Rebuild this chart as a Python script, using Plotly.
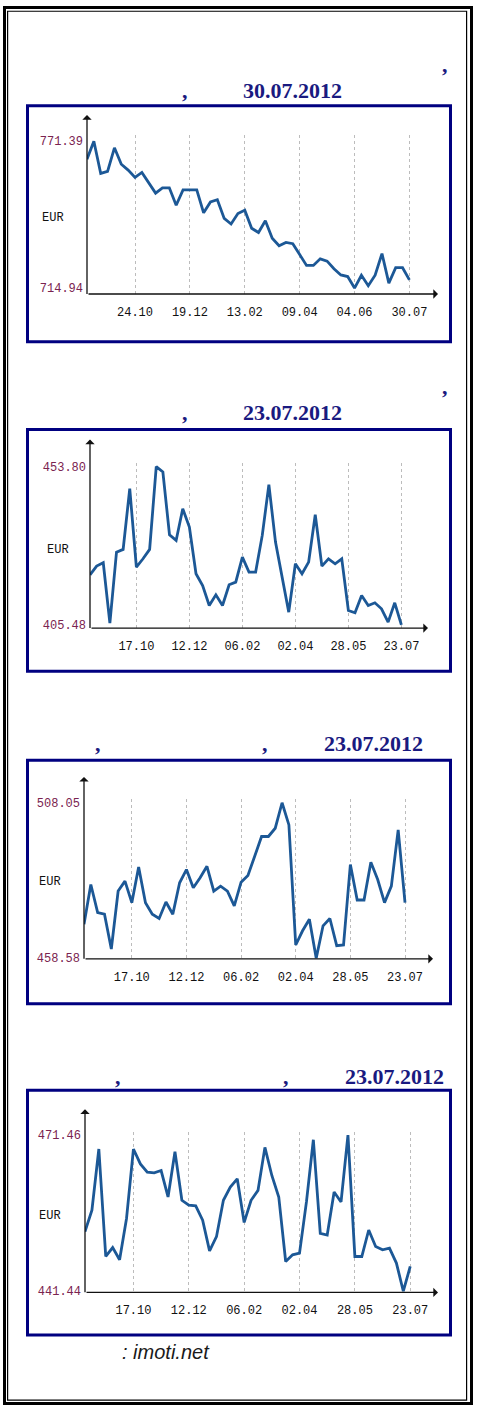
import plotly.graph_objects as go
import pandas as pd

# ---------------- data ----------------
start_1 = "2011-09-05"
start_2 = "2011-08-29"
start_3 = "2011-08-29"
start_4 = "2011-08-29"

values_1 = [764.44, 771.39, 759.01, 759.77, 768.86, 762.55, 760.28, 757.50, 759.39, 755.60,
            751.44, 753.46, 753.46, 746.76, 752.70, 752.70, 752.70, 743.86, 748.03, 748.91,
            741.71, 739.56, 743.61, 744.87, 737.92, 736.28, 740.83, 734.13, 731.23, 732.49,
            731.99, 727.82, 723.65, 723.65, 726.18, 725.29, 722.39, 719.99, 719.36, 714.94,
            719.86, 715.82, 719.86, 728.20, 716.83, 722.77, 722.77, 718.09]

values_2 = [420.77, 423.42, 424.44, 406.00, 427.70, 428.52, 447.07, 423.12, 425.66, 428.52,
            453.80, 452.17, 433.00, 431.27, 440.96, 435.35, 421.08, 417.51, 411.39, 414.66,
            411.39, 417.71, 418.53, 426.17, 421.59, 421.59, 432.80, 448.30, 430.76, 420.57,
            409.35, 424.14, 421.08, 424.65, 439.12, 423.42, 425.66, 424.14, 425.66, 409.86,
            409.15, 414.45, 411.39, 412.21, 410.37, 406.30, 412.21, 405.48]

values_3 = [469.42, 482.05, 473.10, 472.58, 461.52, 479.95, 483.10, 476.26, 487.63, 476.26,
            472.58, 471.21, 476.47, 472.58, 482.58, 486.79, 481.00, 484.16, 487.84, 479.95,
            481.52, 479.95, 475.21, 482.79, 484.89, 491.00, 497.31, 497.31, 499.94, 508.05,
            501.00, 462.79, 467.31, 471.00, 458.58, 468.89, 471.21, 462.58, 462.79, 488.37,
            477.10, 477.10, 489.10, 483.63, 476.26, 481.52, 499.42, 476.26]

values_4 = [452.89, 457.02, 468.79, 448.12, 449.84, 447.48, 455.43, 468.79, 465.93, 464.34,
            464.21, 464.65, 459.57, 468.28, 458.93, 457.98, 457.85, 455.11, 449.20, 451.93,
            458.93, 461.47, 463.06, 454.67, 458.93, 460.84, 469.11, 463.70, 459.57, 447.16,
            448.44, 448.75, 458.61, 470.57, 452.57, 452.25, 460.52, 458.61, 471.46, 448.12,
            448.12, 453.21, 450.03, 449.39, 449.71, 446.85, 441.44, 446.21]

tick_dates_1 = ["2011-10-24", "2011-12-19", "2012-02-13", "2012-04-09", "2012-06-04", "2012-07-30"]
tick_labels_1 = ["24.10", "19.12", "13.02", "09.04", "04.06", "30.07"]
tick_dates_2 = ["2011-10-17", "2011-12-12", "2012-02-06", "2012-04-02", "2012-05-28", "2012-07-23"]
tick_labels_2 = ["17.10", "12.12", "06.02", "02.04", "28.05", "23.07"]

title_dates = ["30.07.2012", "23.07.2012", "23.07.2012", "23.07.2012"]
unit_label = "EUR"
source_text = ": imoti.net"

# ---------------- layout (pixels) ----------------
W, H = 477, 1416


def fx(px):
    return px / W


def fy(py):
    return 1 - py / H


panels = [
    dict(start=start_1, vals=values_1, tv=tick_dates_1, tt=tick_labels_1,
         ax=87, arrow_x=438, axis_y=293.3, top=133, arrow_top=113, pymax=139.3, pymin=287.3,
         wk=6.86, box=(103.5, 341.5), eur=(52.5, 217), date_xy=(292, 88),
         commas=[(445, 62), (185, 88)]),
    dict(start=start_2, vals=values_2, tv=tick_dates_2, tt=tick_labels_2,
         ax=90, arrow_x=428, axis_y=630, top=464, arrow_top=440, pymax=467.3, pymin=626.7,
         wk=6.625, box=(429.8, 673.5), eur=(57.5, 551), date_xy=(292, 413),
         commas=[(445, 387), (185, 413)]),
    dict(start=start_3, vals=values_3, tv=tick_dates_2, tt=tick_labels_2,
         ax=84, arrow_x=433, axis_y=963.3, top=802, arrow_top=780, pymax=806, pymin=962.7,
         wk=6.83, box=(763.2, 1008.5), eur=(50, 886), date_xy=(373.5, 746),
         commas=[(98, 746), (265, 746)]),
    dict(start=start_4, vals=values_4, tv=tick_dates_2, tt=tick_labels_2,
         ax=85, arrow_x=438, axis_y=1299.5, top=1138, arrow_top=1115, pymax=1141, pymin=1298.3,
         wk=6.92, box=(1095.8, 1342.5), eur=(50, 1222), date_xy=(394, 1082),
         commas=[(118, 1082), (286, 1082)]),
]

LINE_COLOR = "#1c5896"
BOX_COLOR = "#000080"
TITLE_COLOR = "#1a1a80"
YLAB_COLOR = "#7a2350"
MONO = "Liberation Mono, DejaVu Sans Mono, monospace"
SERIF = "Liberation Serif, Times New Roman, serif"

fig = go.Figure()
shapes = []
annotations = []
layout_axes = {}

for k, p in enumerate(panels, start=1):
    dates = pd.date_range(p["start"], periods=len(p["vals"]), freq="7D")
    xa = "x" if k == 1 else f"x{k}"
    ya = "y" if k == 1 else f"y{k}"
    fig.add_trace(go.Scatter(x=dates, y=p["vals"], mode="lines", xaxis=xa, yaxis=ya,
                             line=dict(color=LINE_COLOR, width=2.8), showlegend=False,
                             hoverinfo="skip"))
    vmin, vmax = min(p["vals"]), max(p["vals"])
    scale = (vmax - vmin) / (p["pymin"] - p["pymax"])
    ylo = vmin - (p["axis_y"] - p["pymin"]) * scale
    yhi = vmax + (p["pymax"] - p["top"]) * scale
    x0 = pd.Timestamp(p["start"])
    x1 = x0 + pd.Timedelta(days=7 * (p["arrow_x"] - p["ax"]) / p["wk"])
    xkey = "xaxis" if k == 1 else f"xaxis{k}"
    ykey = "yaxis" if k == 1 else f"yaxis{k}"
    layout_axes[xkey] = dict(
        domain=[fx(p["ax"]), fx(p["arrow_x"])], anchor=ya, type="date",
        range=[x0.strftime("%Y-%m-%d %H:%M:%S"), x1.strftime("%Y-%m-%d %H:%M:%S")],
        tickvals=p["tv"], ticktext=p["tt"], showgrid=True, gridcolor="#bcbcbc",
        griddash="dot", gridwidth=1, showline=False, zeroline=False, ticks="",
        ticklabelstandoff=9,
        tickfont=dict(family=MONO, size=12, color="#111111"), fixedrange=True)
    layout_axes[ykey] = dict(
        domain=[fy(p["axis_y"]), fy(p["top"])], anchor=xa, range=[ylo, yhi],
        tickvals=[vmin, vmax], ticktext=[f"{vmin:.2f}", f"{vmax:.2f}"],
        showgrid=False, zeroline=False, showline=False, ticks="",
        ticklabelstandoff=3,
        tickfont=dict(family=MONO, size=12, color=YLAB_COLOR), fixedrange=True)

    # panel box
    b0, b1 = p["box"]
    shapes.append(dict(type="rect", xref="paper", yref="paper",
                       x0=fx(27.5), x1=fx(450.5), y0=fy(b1), y1=fy(b0),
                       line=dict(color=BOX_COLOR, width=3), fillcolor="rgba(0,0,0,0)"))
    # axes with arrows
    annotations.append(dict(xref="paper", yref="paper", x=fx(p["ax"]), y=fy(p["arrow_top"]),
                            ax=0, ay=p["axis_y"] - p["arrow_top"], axref="pixel", ayref="pixel",
                            text="", showarrow=True, arrowhead=1, arrowsize=1.2,
                            arrowwidth=1.3, arrowcolor="#111111"))
    annotations.append(dict(xref="paper", yref="paper", x=fx(p["arrow_x"]), y=fy(p["axis_y"]),
                            ax=-(p["arrow_x"] - p["ax"]), ay=0, axref="pixel", ayref="pixel",
                            text="", showarrow=True, arrowhead=1, arrowsize=1.2,
                            arrowwidth=1.3, arrowcolor="#111111"))
    # EUR label
    annotations.append(dict(xref="paper", yref="paper", x=fx(p["eur"][0]), y=fy(p["eur"][1]),
                            text=unit_label, showarrow=False, xanchor="center", yanchor="middle",
                            font=dict(family=MONO, size=12, color="#111111")))
    # titles
    annotations.append(dict(xref="paper", yref="paper", x=fx(p["date_xy"][0]), y=fy(p["date_xy"][1]),
                            text=f"<b>{title_dates[k - 1]}</b>", showarrow=False,
                            xanchor="center", yanchor="middle",
                            font=dict(family=SERIF, size=22, color=TITLE_COLOR)))
    for cx, cy in p["commas"]:
        annotations.append(dict(xref="paper", yref="paper", x=fx(cx), y=fy(cy),
                                text="<b>,</b>", showarrow=False, xanchor="center",
                                yanchor="middle",
                                font=dict(family=SERIF, size=22, color=TITLE_COLOR)))

# source
annotations.append(dict(xref="paper", yref="paper", x=fx(120), y=fy(1360), text=f"<i>{source_text}</i>",
                        showarrow=False, xanchor="left", yanchor="middle",
                        font=dict(family="Liberation Sans, Arial, sans-serif", size=20,
                                  color="#1a1a1a")))

# outer double border
shapes.append(dict(type="rect", xref="paper", yref="paper", x0=fx(4.5), x1=fx(471.5),
                   y0=fy(1411.5), y1=fy(4.5), line=dict(color="#000000", width=3),
                   fillcolor="rgba(0,0,0,0)"))
shapes.append(dict(type="rect", xref="paper", yref="paper", x0=fx(7.6), x1=fx(466.6),
                   y0=fy(1408), y1=fy(8.3), line=dict(color="#000000", width=1.2),
                   fillcolor="rgba(0,0,0,0)"))

fig.update_layout(width=W, height=H, margin=dict(l=0, r=0, t=0, b=0),
                  paper_bgcolor="white", plot_bgcolor="white",
                  shapes=shapes, annotations=annotations, showlegend=False, **layout_axes)

fig.write_html("out.html", config={"displayModeBar": False},
               post_script="document.body.style.margin='0';document.body.style.overflow='hidden';")
